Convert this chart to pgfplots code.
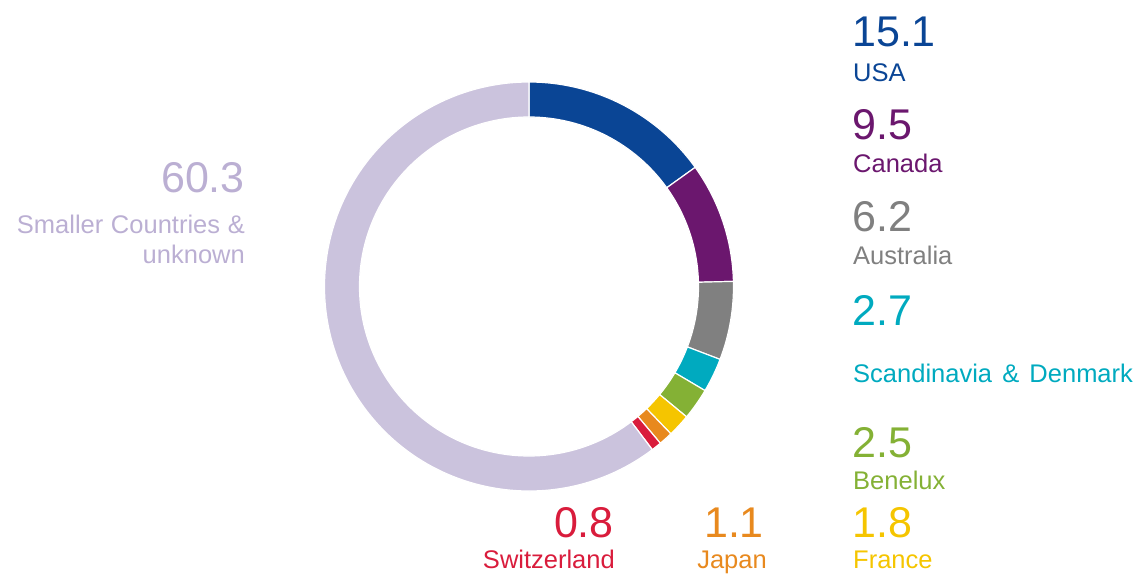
\documentclass[border=0pt]{standalone}
\usepackage{pgfplots}
\pgfplotsset{compat=1.18}
\usepackage{pgfplotstable}
\usepackage{fontspec}
\setmainfont{Liberation Sans}
\definecolor{cUSA}{HTML}{0A4595}
\definecolor{cCan}{HTML}{6B176E}
\definecolor{cAus}{HTML}{808080}
\definecolor{cSca}{HTML}{00AABF}
\definecolor{cBen}{HTML}{84B135}
\definecolor{cFra}{HTML}{F5C500}
\definecolor{cJap}{HTML}{E8891E}
\definecolor{cSwi}{HTML}{D91C3C}
\definecolor{cSma}{HTML}{CBC3DD}
\definecolor{tSma}{HTML}{BBAFD3}
\pgfplotstableread{
value color
15.1 cUSA
9.5 cCan
6.2 cAus
2.7 cSca
2.5 cBen
1.8 cFra
1.1 cJap
0.8 cSwi
60.3 cSma
}\donut
\newcommand\num[1]{\fontsize{43}{43}\selectfont #1}
\newcommand\lab[1]{\fontsize{25.5}{25.5}\selectfont #1}
\begin{document}
\begin{tikzpicture}
\begin{axis}[hide axis, x=1pt, y=1pt, xmin=0, xmax=1135, ymin=0, ymax=574,
  scale only axis, clip=false, enlargelimits=false]
\addplot[draw=none] coordinates {(0,0) (1135,574)};
\def\cum{0}
\pgfplotsforeachungrouped \i in {0,...,8}{%
  \pgfplotstablegetelem{\i}{value}\of\donut \let\v\pgfplotsretval
  \pgfplotstablegetelem{\i}{color}\of\donut \let\c\pgfplotsretval
  \pgfmathsetmacro\s{90-3.6*\cum}%
  \pgfmathsetmacro\cumnew{\cum+\v}%
  \pgfmathsetmacro\e{90-3.6*\cumnew}%
  \let\cum\cumnew
  \edef\temp{\noexpand\fill[\c, draw=white, line width=1.2pt, shift={(axis cs:529,287.5)}] (\s:204.5pt) arc[start angle=\s, end angle=\e, radius=204.5pt] -- (\e:169.5pt) arc[start angle=\e, end angle=\s, radius=169.5pt] -- cycle;}%
  \temp
}
% right labels
\node[anchor=base west, inner sep=0, text=cUSA] at (axis cs:852,527) {\num{15.1}};
\node[anchor=base west, inner sep=0, text=cUSA] at (axis cs:853,492) {\lab{USA}};
\node[anchor=base west, inner sep=0, text=cCan] at (axis cs:852,434) {\num{9.5}};
\node[anchor=base west, inner sep=0, text=cCan] at (axis cs:853,401) {\lab{Canada}};
\node[anchor=base west, inner sep=0, text=cAus] at (axis cs:852,342) {\num{6.2}};
\node[anchor=base west, inner sep=0, text=cAus] at (axis cs:853,309) {\lab{Australia}};
\node[anchor=base west, inner sep=0, text=cSca] at (axis cs:852,249) {\num{2.7}};
\node[anchor=base west, inner sep=0, text=cSca] at (axis cs:853,192) {\lab{Scandinavia\hspace{0.4em}\&\hspace{0.4em}Denmark}};
\node[anchor=base west, inner sep=0, text=cBen] at (axis cs:852,117) {\num{2.5}};
\node[anchor=base west, inner sep=0, text=cBen] at (axis cs:853,85) {\lab{Benelux}};
% bottom labels
\node[anchor=base west, inner sep=0, text=cFra] at (axis cs:852,37) {\num{1.8}};
\node[anchor=base west, inner sep=0, text=cFra] at (axis cs:853,6) {\lab{France}};
\node[anchor=base, inner sep=0, text=cJap] at (axis cs:734,37) {\num{1.1}};
\node[anchor=base, inner sep=0, text=cJap] at (axis cs:732,6) {\lab{Japan}};
\node[anchor=base east, inner sep=0, text=cSwi] at (axis cs:614,37) {\num{0.8}};
\node[anchor=base east, inner sep=0, text=cSwi] at (axis cs:615,6) {\lab{Switzerland}};
% left label
\node[anchor=base east, inner sep=0, text=tSma] at (axis cs:245,381) {\num{60.3}};
\node[anchor=base east, inner sep=0, text=tSma] at (axis cs:245,341) {\lab{Smaller\hspace{0.3em}Countries\hspace{0.3em}\&}};
\node[anchor=base east, inner sep=0, text=tSma] at (axis cs:245,311) {\lab{unknown}};
\end{axis}
\end{tikzpicture}
\end{document}
